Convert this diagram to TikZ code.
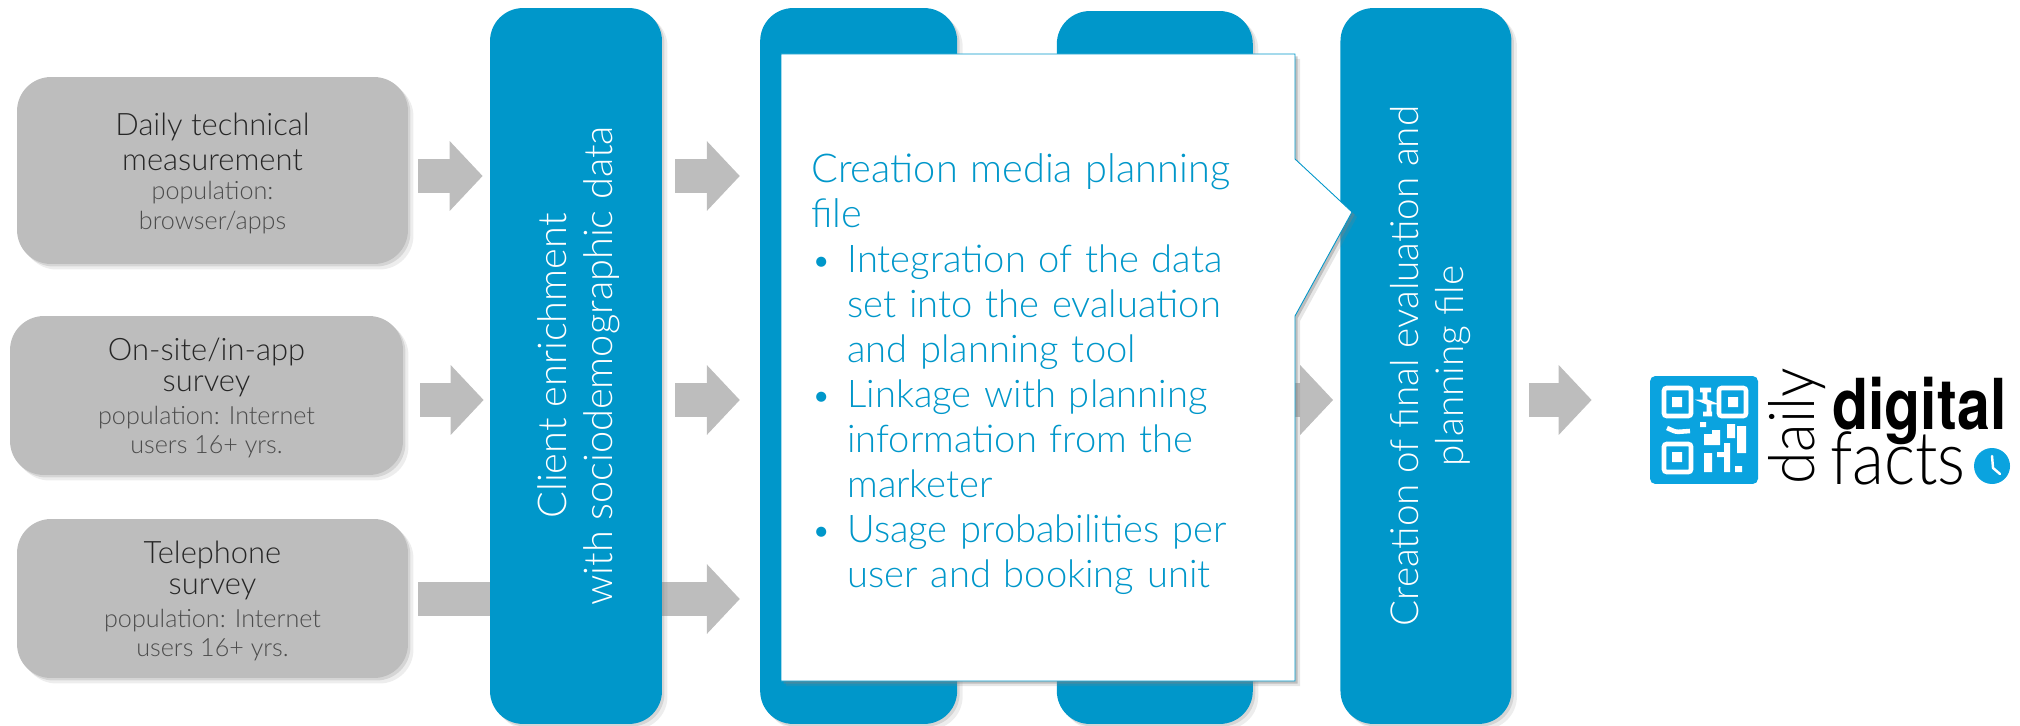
\documentclass[tikz,border=0pt]{standalone}
\usepackage{fontspec}
\setmainfont{Lato}[UprightFont=* Light]
\newfontfamily\logobold{TeX Gyre Heros}[UprightFont=* Bold]
\usetikzlibrary{arrows.meta,backgrounds,positioning,shadows}
\definecolor{barblue}{HTML}{0097CA}
\definecolor{boxgray}{HTML}{BDBDBD}
\definecolor{logoblue}{HTML}{0AA3DF}
\newcommand{\boxhead}{\fontsize{17.6}{20.5}\selectfont\color{black!85}}
\newcommand{\boxsub}{\fontsize{14.3}{16}\selectfont\color{black!70}}
\newcommand{\boxtop}{\rule{0pt}{16pt}}
\tikzstyle{softshadow}=[drop shadow={shadow xshift=0.05cm,shadow yshift=-0.05cm,opacity=.22},drop shadow={shadow xshift=0.11cm,shadow yshift=-0.11cm,opacity=.14}]
\tikzstyle{graybox}=[rectangle,rounded corners=0.68cm,fill=boxgray,inner sep=0pt,align=center,softshadow]
\tikzstyle{bluebar}=[rectangle,rounded corners=0.66cm,fill=barblue,inner sep=0pt,minimum height=14.32cm,softshadow]
\tikzstyle{bartext}=[rotate=90,align=center,text=white,font=\fontsize{22.6}{26}\selectfont]
\tikzstyle{callout}=[fill=white,draw=barblue,line width=0.5pt,drop shadow={shadow xshift=0.05cm,shadow yshift=-0.05cm,opacity=.4},drop shadow={shadow xshift=0.1cm,shadow yshift=-0.1cm,opacity=.2}]
\tikzstyle{blockarrow}=[boxgray,line width=0.68cm,-{Triangle[length=0.66cm,width=1.36cm]}]
\tikzstyle{qrline}=[draw=white,line width=2.6pt,rounded corners=1.5pt]

\begin{document}
\begin{tikzpicture}[x=0.02cm,y=-0.02cm]

    \useasboundingbox (0,0) rectangle (2020,726);

    % sources
    \node[graybox,minimum width=7.82cm,minimum height=3.74cm] (tech) at (212.5,170.5) {\boxhead\boxtop Daily technical\\[4.4pt]\boxhead measurement\\[4.4pt]\boxsub population:\\[3pt]\boxsub browser/apps};
    \node[graybox,minimum width=7.86cm,minimum height=3.18cm] (site) at (206.5,395.5) {\boxhead\boxtop On-site/in-app\\[4.4pt]\boxhead survey\\[4.4pt]\boxsub population: Internet\\[3pt]\boxsub users 16+ yrs.};
    \node[graybox,minimum width=7.82cm,minimum height=3.18cm] (phone) at (212.5,598.5) {\boxhead\boxtop Telephone\\[4.4pt]\boxhead survey\\[4.4pt]\boxsub population: Internet\\[3pt]\boxsub users 16+ yrs.};

    % bars
    \node[bluebar,minimum width=3.44cm] (enrich) at (576,366) {};
    \node[bluebar,minimum width=3.94cm] (plan) [right=1.95cm of enrich] {};
    \node[bluebar,minimum width=3.92cm,minimum height=14.26cm,yshift=-0.03cm] (tool) [right=1.98cm of plan] {};
    \node[bluebar,minimum width=3.42cm] (final) [right=1.74cm of tool,yshift=0.03cm] {};
    \node[bartext,yshift=-0.05cm] (enrichtext) at (enrich) {Client enrichment\\with sociodemographic data};
    \node[bartext,yshift=-0.09cm,font=\fontsize{22}{26}\selectfont] (finaltext) at (final) {Creation of final evaluation and\\planning file};

    % logo
    \node[rectangle,rounded corners=3pt,fill=logoblue,minimum size=2.16cm,inner sep=0pt] (logo) at (1704,430) {};
    \draw[qrline] (1664,388) rectangle (1691,416);
    \draw[qrline] (1719,388) rectangle (1746,416);
    \draw[qrline] (1664,444) rectangle (1691,472);
    \draw[qrline] (1700,390) -- (1711,390) (1705,390) -- (1705,402) -- (1709,402) -- (1709,414) (1703,414) -- (1712,414);
    \draw[qrline] (1667,428) -- (1676,432) -- (1690,431);
    \fill[white] (1672,397) rectangle (1682,407) (1728,397) rectangle (1738,407) (1672,452) rectangle (1682,462);
    \fill[white] (1700,422) rectangle (1706,427) (1704,434) rectangle (1720,445) (1712,430) rectangle (1720,434) (1727,424) rectangle (1735,438) (1737,426) rectangle (1746,453);
    \fill[white] (1704,453) rectangle (1712,472) (1724,443) rectangle (1730,472) (1717,452) rectangle (1724,457) (1735,466) rectangle (1742,472);
    \node[rotate=90,anchor=base west,inner sep=0pt,font=\fontsize{36}{36}\selectfont] (daily) at (1814,485) {\scalebox{.93}[1]{daily}};
    \node[anchor=base west,inner sep=0pt,font=\logobold\fontsize{40}{40}\selectfont] (digital) at (1832,429) {\scalebox{.84}[1]{digital}};
    \node[anchor=base west,inner sep=0pt,font=\fontsize{42}{42}\selectfont] (facts) at (1830,484) {\scalebox{.89}[1]{facts}};
    \node[circle,fill=logoblue,minimum size=0.72cm,inner sep=0pt] (clock) at (1992,466) {};
    \draw[white,line width=1.4pt,line cap=round] (1992,456) -- (1993,468) -- (2000,474);

    % Arrows
    \begin{scope}[on background layer]
    \draw[blockarrow,shorten <=0.2cm,shorten >=0.14cm] (tech.east |- 0,176) -- (enrich.west |- 0,176);
    \draw[blockarrow,shorten <=0.34cm,shorten >=0.12cm] (site.east |- 0,400) -- (enrich.west |- 0,400);
    \draw[blockarrow,shorten <=0.2cm,shorten >=0.4cm] (phone.east |- 0,599) -- (plan.west |- 0,599);
    \draw[blockarrow,shorten <=0.26cm,shorten >=0.4cm] (enrich.east |- 0,176) -- (plan.west |- 0,176);
    \draw[blockarrow,shorten <=0.26cm,shorten >=0.4cm] (enrich.east |- 0,400) -- (plan.west |- 0,400);
    \draw[blockarrow,shorten <=0.3cm,shorten >=0.14cm] (tool.east |- 0,400) -- (final.west |- 0,400);
    \draw[blockarrow,shorten <=0.34cm,shorten >=1.16cm] (final.east |- 0,400) -- (logo.west |- 0,400);
    \end{scope}

    % white callout on top of the bars
    \path[callout] (781,54) -- (1295,54) -- (1295,159) -- (1352,212) -- (1295,316) -- (1295,681) -- (781,681) -- cycle;
    \node[anchor=north west,inner sep=0pt,text width=9.7cm,text=barblue,font=\fontsize{21.7}{25.6}\selectfont] (plantext) at (811,153) {{\fontsize{22.6}{25.6}\selectfont Creation media planning\\file}
      \begin{list}{\makebox[0pt][l]{\scalebox{.9}{\textbullet}}}{\setlength{\leftmargin}{0.72cm}\setlength{\labelsep}{0.72cm}\setlength{\labelwidth}{0pt}\setlength{\topsep}{-1.5pt}\setlength{\itemsep}{0pt}\setlength{\parsep}{0pt}\setlength{\partopsep}{0pt}}
      \item Integration of the data\\set into the evaluation\\and planning tool
      \item Linkage with planning\\information from the\\marketer
      \item Usage probabilities per\\user and booking unit
      \end{list}};

\end{tikzpicture}
\end{document}
